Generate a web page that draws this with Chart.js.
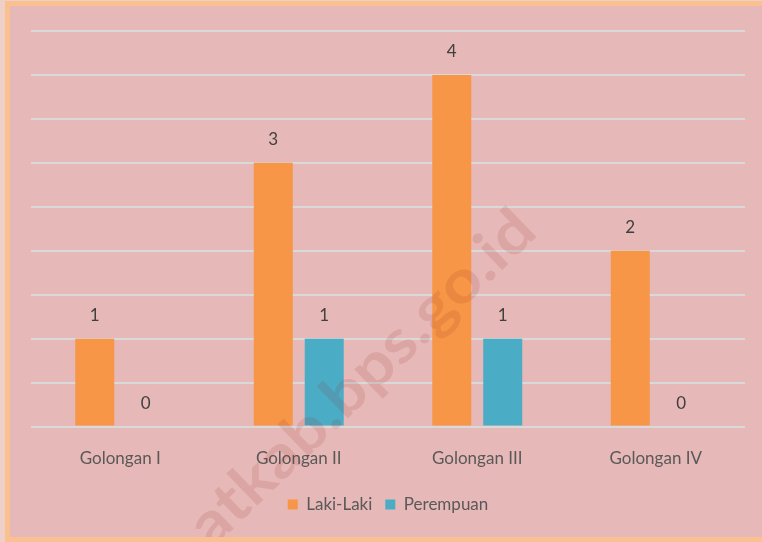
<!DOCTYPE html>
<html>
<head>
<meta charset="utf-8">
<script src="https://cdn.jsdelivr.net/npm/chart.js@4"></script>
<style>
  html, body { margin: 0; padding: 0; background: #efd0c9; }
  .frame {
    position: absolute;
    left: 5px;
    top: 1px;
    width: 752px;
    height: 531px;
    background: #e6b8b7;
    border-top: 5px solid #fac08f;
    border-left: 5px solid #fac08f;
    border-bottom: 5px solid #fac08f;
  }
  canvas { display: block; }
</style>
</head>
<body>
<div class="frame">
  <canvas id="golonganChart" width="752" height="531"></canvas>
</div>
<script>
/* Pegawai per golongan, menurut jenis kelamin */
const CATEGORIES = ["Golongan I", "Golongan II", "Golongan III", "Golongan IV"];
const LAKI_LAKI = [1, 3, 4, 2];
const PEREMPUAN = [0, 1, 1, 0];
const SERIES_NAMES = ["Laki-Laki", "Perempuan"];
const WATERMARK = "atkab.bps.go.id";

const FONT = "Lato, 'Open Sans', sans-serif";

/**
 * Draw the value above each bar, like the Excel data labels.
 */
const valueLabels = {
  id: "valueLabels",
  afterDatasetsDraw(chart) {
    const ctx = chart.ctx;
    ctx.save();
    ctx.font = "17px " + FONT;
    ctx.fillStyle = "#404040";
    ctx.textAlign = "center";
    ctx.textBaseline = "middle";
    chart.data.datasets.forEach((ds, i) => {
      chart.getDatasetMeta(i).data.forEach((bar, j) => {
        ctx.fillText(String(ds.data[j]), bar.x, bar.y - 23);
      });
    });
    ctx.restore();
  },
};

/**
 * Faint diagonal site watermark on top of the plot.
 */
const watermark = {
  id: "watermark",
  afterDraw(chart) {
    const ctx = chart.ctx;
    ctx.save();
    ctx.translate(352, 372);
    ctx.rotate(-Math.PI / 4.1);
    ctx.font = "bold 60px " + FONT;
    const w = ctx.measureText(WATERMARK).width;
    ctx.scale(455 / w, 1);
    ctx.fillStyle = "rgba(150, 40, 40, 0.13)";
    ctx.textAlign = "center";
    ctx.textBaseline = "middle";
    ctx.fillText(WATERMARK, 0, 0);
    ctx.restore();
  },
};

new Chart(document.getElementById("golonganChart"), {
  type: "bar",
  data: {
    labels: CATEGORIES,
    datasets: [
      {
        label: SERIES_NAMES[0],
        data: LAKI_LAKI,
        backgroundColor: "#f79646",
        barPercentage: 0.765,
        categoryPercentage: 0.571,
      },
      {
        label: SERIES_NAMES[1],
        data: PEREMPUAN,
        backgroundColor: "#4bacc6",
        barPercentage: 0.765,
        categoryPercentage: 0.571,
      },
    ],
  },
  options: {
    responsive: false,
    animation: false,
    layout: { padding: { left: 21, right: 17, top: 25, bottom: 14 } },
    plugins: {
      tooltip: { enabled: false },
      legend: {
        position: "bottom",
        labels: {
          color: "#595959",
          font: { size: 17, family: FONT },
          boxWidth: 10,
          boxHeight: 10,
          padding: 13,
        },
      },
    },
    scales: {
      x: {
        grid: { display: false },
        border: { display: false },
        ticks: {
          color: "#595959",
          font: { size: 17, family: FONT },
          padding: 14,
        },
      },
      y: {
        min: 0,
        max: 4.5,
        ticks: { display: false, stepSize: 0.5 },
        grid: { color: "#d9d9d9", lineWidth: 2, drawTicks: false },
        border: { display: false },
      },
    },
  },
  plugins: [valueLabels, watermark],
});
</script>
</body>
</html>
